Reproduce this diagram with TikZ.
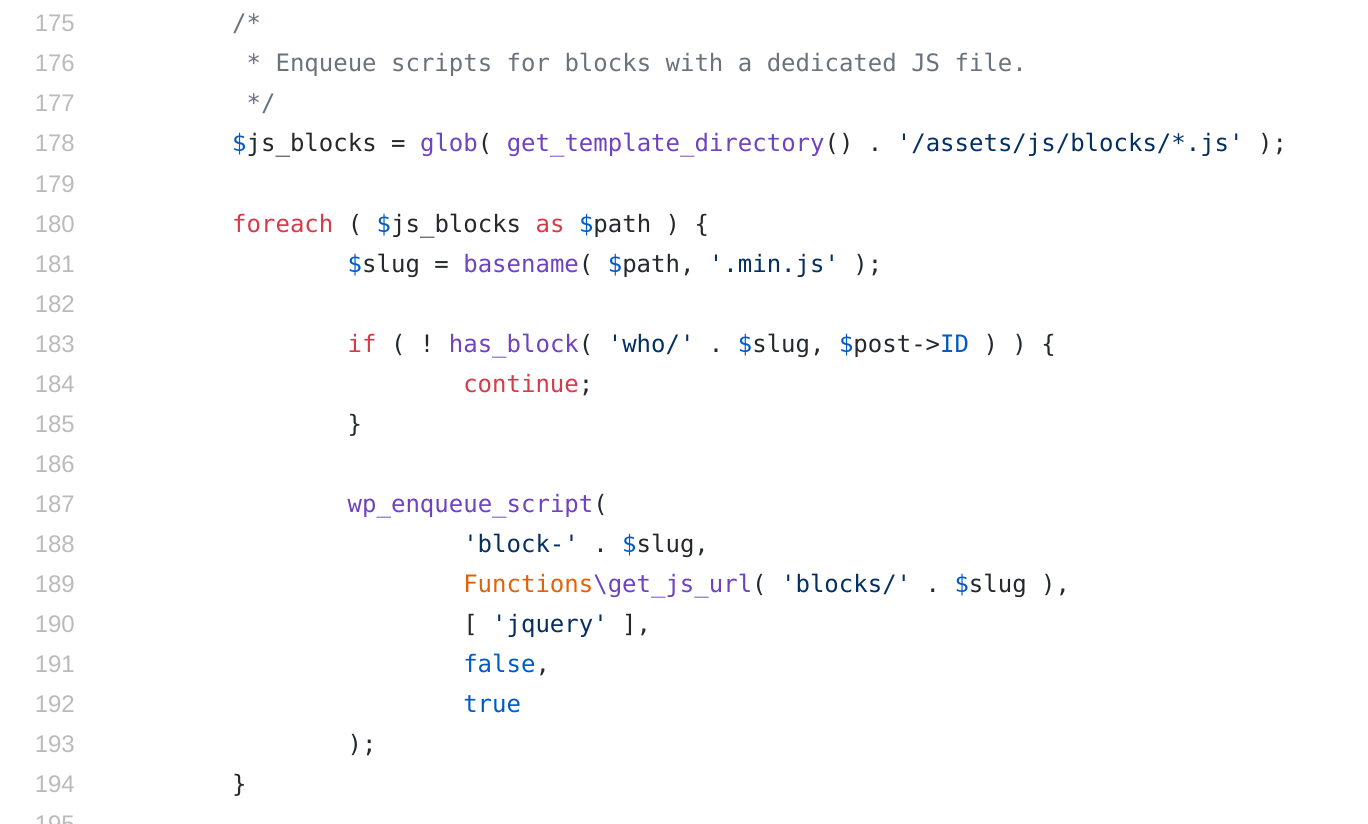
\documentclass[tikz,border=0pt]{standalone}
\usepackage{fontspec}
\usepackage{xcolor}
\newfontfamily\codefont{DejaVu Sans Mono}
\newfontfamily\numfont{Liberation Sans}
\definecolor{cT}{HTML}{24292E}
\definecolor{cNum}{HTML}{BABBBD}
\definecolor{cCom}{HTML}{6A737D}
\definecolor{cKey}{HTML}{D73A49}
\definecolor{cFun}{HTML}{6F42C1}
\definecolor{cCon}{HTML}{005CC5}
\definecolor{cStr}{HTML}{032F62}
\definecolor{cVar}{HTML}{E36209}
\newcommand\hlK[1]{\textcolor{cKey}{#1}}
\newcommand\hlF[1]{\textcolor{cFun}{#1}}
\newcommand\hlC[1]{\textcolor{cCon}{#1}}
\newcommand\hlS[1]{\textcolor{cStr}{#1}}
\newcommand\hlV[1]{\textcolor{cVar}{#1}}
\newcommand\hlM[1]{\textcolor{cCom}{#1}}
\newcommand\dol{\hlC{\$}}
\frenchspacing
\tikzset{
  num/.style={anchor=base east, inner sep=0pt, text=cNum, font=\numfont\fontsize{24}{28}\selectfont},
  code/.style={anchor=base west, inner sep=0pt, text=cT, font=\codefont\fontsize{24}{28}\selectfont\frenchspacing},
}
\begin{document}
\begin{tikzpicture}[x=1pt,y=-1pt]
\fill[white] (0,0) rectangle (1368,824);
\useasboundingbox (0,0) rectangle (1368,824);
\clip (0,0) rectangle (1368,824);
\foreach \i in {175,...,195}{
  \node[num] (n\i) at (75,{32+40*(\i-175)}) {\i};
}
\def\cw{14.44}
\def\xo{116.5}
\node[code] (l175) at ({\xo+\cw*8},32)  {\hlM{/*}};
\node[code] (l176) at ({\xo+\cw*9},72)  {\hlM{* Enqueue scripts for blocks with a dedicated JS file.}};
\node[code] (l177) at ({\xo+\cw*9},112) {\hlM{*/}};
\node[code] (l178) at ({\xo+\cw*8},152) {\dol js\_blocks = \hlF{glob}( \hlF{get\_template\_directory}() . \hlS{'/assets/js/blocks/*.js'} );};
\node[code] (l180) at ({\xo+\cw*8},232) {\hlK{foreach} ( \dol js\_blocks \hlK{as} \dol path ) \{};
\node[code] (l181) at ({\xo+\cw*16},272) {\dol slug = \hlF{basename}( \dol path, \hlS{'.min.js'} );};
\node[code] (l183) at ({\xo+\cw*16},352) {\hlK{if} ( ! \hlF{has\_block}( \hlS{'who/'} . \dol slug, \dol post->\hlC{ID} ) ) \{};
\node[code] (l184) at ({\xo+\cw*24},392) {\hlK{continue};};
\node[code] (l185) at ({\xo+\cw*16},432) {\}};
\node[code] (l187) at ({\xo+\cw*16},512) {\hlF{wp\_enqueue\_script}(};
\node[code] (l188) at ({\xo+\cw*24},552) {\hlS{'block-'} . \dol slug,};
\node[code] (l189) at ({\xo+\cw*24},592) {\hlV{Functions}\hlF{\textbackslash get\_js\_url}( \hlS{'blocks/'} . \dol slug ),};
\node[code] (l190) at ({\xo+\cw*24},632) {[ \hlS{'jquery'} ],};
\node[code] (l191) at ({\xo+\cw*24},672) {\hlC{false},};
\node[code] (l192) at ({\xo+\cw*24},712) {\hlC{true}};
\node[code] (l193) at ({\xo+\cw*16},752) {);};
\node[code] (l194) at ({\xo+\cw*8},792) {\}};
\end{tikzpicture}
\end{document}
